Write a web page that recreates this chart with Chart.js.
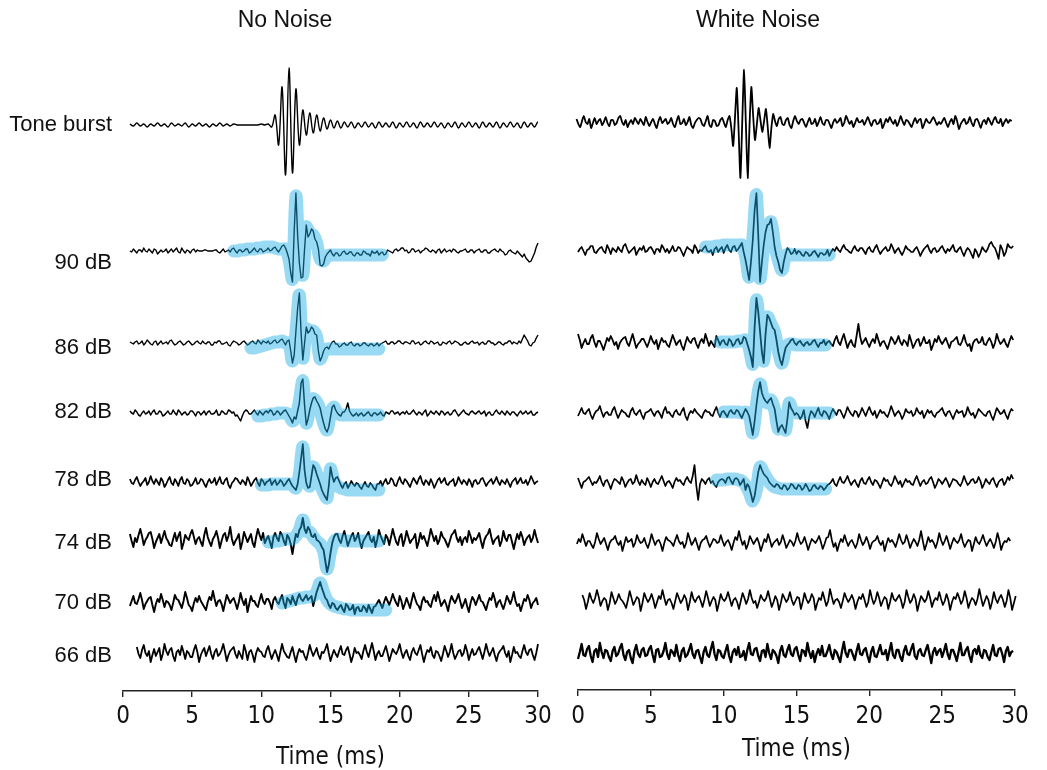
<!DOCTYPE html>
<html>
<head>
<meta charset="utf-8">
<script src="https://cdn.jsdelivr.net/npm/chart.js@4.4.0/dist/chart.umd.min.js"></script>
<style>
  html, body { margin: 0; padding: 0; background: #fff; }
  #wrap { position: relative; width: 1047px; height: 770px; }
  #wrap canvas { position: absolute; left: 0; top: 0; }
</style>
</head>
<body>
<div id="wrap">
  <canvas id="leftChart" width="1047" height="770"></canvas>
  <canvas id="rightChart" width="1047" height="770"></canvas>
</div>
<script>
// amplitudes are in arbitrary units, up = positive; each trace is sampled on a regular step (ms)
const rowLabels = ['Tone burst', '90 dB', '86 dB', '82 dB', '78 dB', '74 dB', '70 dB', '66 dB'];
const timeStep = 5;

// ---- No Noise ----
const leftTone = [ // 0.25 ms step
  1,-1,2,-1,1,-2,1,-1,2,-1,1,-2,2,-1,1,-1,2,-2,1,-1,
  2,-1,1,-2,1,-1,2,-1,1,-1,1,0,0,0,0,0,0,0,1,0,
  1,-2,10,-20,38,-50,57,-48,36,-20,15,-10,12,-8,10,-6,7,-4,5,-3,
  4,-3,3,-2,3,-3,2,-2,3,-2,2,-3,3,-2,2,-2,3,-3,2,-2,
  3,-2,2,-3,3,-2,2,-2,3,-2,2,-3,2,-2,3,-3,2,-2,3,-2,
  2,-3,3,-2,2,-2,3,-3,2,-2,3,-2,2,-3,3,-2,2,-2,3,-1
];
const left90 = [
  0,-1,2,0,-2,1,1,-1,3,0,-1,2,0,-2,2,1,-3,-1,1,-1,0,2,-2,0,2,-1,1,3,-1,-2,3,0,-2,1,0,-2,1,2,-1,1,
  0,0,0,1,1,0,0,0,0,1,1,-1,-2,0,2,-1,0,1,-1,2,3,0,-2,1,1,-1,0,2,2,-2,-1,1,3,0,-1,2,2,-1,0,1,
  3,0,1,3,4,1,-1,2,5,6,3,-2,-8,-22,-31,20,58,15,-12,-27,-26,2,26,14,17,22,20,12,9,2,-14,-15,-13,-6,-3,-1,1,-3,-5,-2,
  -2,-5,-4,-1,0,-3,-3,-1,-1,-4,-5,-2,-2,-4,-4,0,-1,-3,-3,-5,0,-2,-2,0,-4,-2,-1,-4,-3,1,0,-1,-2,1,2,0,1,3,3,0,
  1,-2,-1,2,2,-1,0,1,-2,0,1,3,2,0,-1,1,0,-2,1,2,-2,0,2,-1,0,1,-1,2,1,-1,-2,0,0,1,2,-1,-1,1,1,-2,
  0,1,2,-1,-1,1,1,-2,-2,0,1,2,0,-1,2,0,-1,-4,-3,0,1,-1,-2,-3,0,-2,-4,-6,-3,-7,-9,-11,-10,-6,-2,4,8,3,-3,-4
];
const left86 = [
  1,0,-1,1,2,-1,0,2,-2,0,3,1,-1,-2,1,2,-2,0,2,-1,0,1,-1,2,3,0,-2,-1,1,2,0,-2,-1,1,2,0,-2,-1,1,2,
  0,-1,2,0,-1,1,1,-2,-2,1,0,2,2,-1,-1,0,1,-2,-3,0,2,1,0,-2,-1,1,2,0,-2,-1,1,2,0,-1,3,1,-1,2,1,0,
  2,-1,0,2,3,0,1,3,4,1,-2,2,3,-8,-20,-12,12,35,50,10,-17,0,16,10,12,16,14,9,8,-8,-18,-14,-8,-5,-4,-6,-2,1,2,-1,
  -1,-4,-3,-1,0,-2,-2,0,1,-2,-3,-1,-1,-3,-2,0,0,-2,-3,-1,-1,-3,-2,0,-3,-1,0,1,2,-1,-1,1,1,-1,0,2,2,0,-1,1,
  1,0,-1,2,2,-1,0,1,-2,-1,1,2,0,-1,2,1,-1,0,1,-2,-2,1,0,-1,1,2,-1,0,2,1,0,-2,-2,0,1,-1,-1,1,2,0,
  0,1,-2,0,1,-1,-1,2,2,0,0,-2,-1,1,1,-1,-2,0,0,2,2,-1,1,0,-1,2,0,4,8,5,2,-2,-3,0,1,5,8,3,-1,0
];
const left82 = [
  2,0,-1,3,1,-2,-3,0,2,-1,0,2,-2,1,3,-1,-1,2,1,-3,-2,0,2,-1,-1,3,0,-2,3,1,-2,0,1,-2,-1,2,2,0,-3,1,
  1,-2,0,2,-2,1,2,-1,-1,0,3,-2,-2,2,1,-1,-1,3,2,0,1,-3,-2,-5,-8,-3,1,3,2,-1,-1,1,3,0,-2,2,0,-2,1,2,
  0,3,2,-2,-1,2,1,-2,0,2,3,0,-3,-6,-10,-4,-6,2,10,30,34,8,-12,-6,3,10,15,16,12,9,5,-3,-10,-16,-19,-14,-4,6,8,3,
  0,-2,-3,1,1,4,10,2,-1,-3,-2,0,-3,-1,0,-3,-2,0,1,-2,-3,0,0,-2,-1,1,-2,-3,1,0,-1,2,2,-1,0,1,-2,0,1,-1,
  2,-1,-1,1,3,0,-2,1,0,-2,1,3,-3,-1,2,0,-1,2,0,-2,2,1,-2,0,1,-2,-1,2,3,0,-3,-1,1,3,0,-1,-2,1,2,0,
  -1,1,2,-1,0,2,-3,0,1,-2,-2,1,3,0,-1,2,0,-2,2,0,-2,1,1,-1,-3,0,2,-1,0,2,-1,0,2,-2,-2,0,1,2,-2,0
];
const left78 = [
  3,-1,-2,2,5,0,-4,-1,1,4,-3,0,6,1,-2,3,0,-3,4,1,-5,-2,2,5,-1,-3,3,0,-4,2,5,-1,-2,3,1,-4,-3,0,4,-2,
  -1,3,2,-2,-5,0,3,-1,0,4,-3,1,5,-1,-2,2,4,-3,-6,-1,1,4,3,0,-2,2,0,-3,5,1,-4,-1,2,4,-1,-4,3,1,-3,0,
  1,3,-3,0,2,-3,-1,2,0,-4,-2,1,3,-1,-4,-6,-8,-2,10,24,38,12,-1,-6,-5,6,17,14,8,3,-2,-8,-12,-15,-18,-4,15,6,0,4,
  5,1,-3,-6,-2,0,-6,-3,1,-2,-4,-1,-2,-5,-7,-3,0,-4,-5,-1,-3,-6,-8,-2,-2,1,-4,0,3,-2,-1,4,2,-3,-4,1,5,0,-2,3,
  1,-2,-5,0,4,1,-2,3,6,0,-3,2,0,-3,3,-1,-6,-2,2,4,-1,1,4,-2,-3,0,1,3,-4,-1,5,1,-2,2,0,-3,3,0,-5,1,
  2,-2,-1,3,4,0,-4,-1,1,3,-2,1,5,0,-3,2,0,-2,3,-1,-5,0,2,4,-2,1,4,-1,-1,2,-3,1,6,2,-2,0,1,4,3,-1
];
const left74 = [
  5,-2,-8,1,-3,4,10,3,-6,-1,2,6,7,0,-9,-3,1,5,-4,2,8,1,-2,-6,-7,0,6,-2,3,7,-10,-4,4,1,-1,5,9,2,-5,0,
  2,-3,-7,4,11,2,-3,-7,0,3,8,1,-9,-2,4,6,-2,3,12,0,-6,-2,1,5,-10,-3,7,2,-3,1,5,-4,-8,2,10,4,-1,6,-4,0,
  3,-3,-9,2,6,1,-2,7,4,-2,-6,4,1,-5,-15,-4,5,2,9,12,21,10,6,12,9,3,2,5,-1,-2,-4,-8,-11,-22,-33,-26,-14,-4,2,5,
  5,-1,-4,3,8,1,-7,-2,3,6,-2,1,6,-3,-9,-2,1,4,7,0,-3,2,-8,-1,9,3,-1,-5,4,1,-6,2,10,3,-3,-6,2,5,-7,-1,
  8,2,-4,-1,1,5,-9,-3,6,0,3,-2,-7,1,10,4,-2,3,-5,-1,7,2,0,-4,-8,-2,4,6,9,1,-3,2,-6,0,2,-3,8,3,-4,1,
  -1,2,6,-2,-9,-1,3,5,10,2,-5,-1,1,3,-7,-2,8,1,-2,4,4,-3,-10,-2,5,0,7,2,-6,-1,2,4,-3,1,9,2,-4,1,0,3
];
const left70 = [
  -4,1,6,-1,-2,3,9,2,-7,-2,1,4,5,-3,-10,-2,3,0,8,2,-5,1,0,-3,-8,-1,7,3,2,-2,-6,1,10,4,-3,-5,-9,-1,4,0,
  6,1,-2,-5,-8,0,5,2,11,3,-4,1,2,-2,-9,-1,7,3,-1,2,4,-1,-7,0,9,2,-3,3,-10,-2,6,1,1,-3,-5,2,8,1,-2,3,
  3,-1,-7,2,5,0,-2,3,7,-1,-6,4,2,-2,6,1,-3,4,8,3,1,4,7,2,4,6,-4,3,10,15,20,14,9,4,2,-3,-6,-1,-2,-6,
  -8,-5,-3,-7,-10,-2,-4,-8,-7,-3,-12,-6,-5,-9,-9,-4,-6,-10,-3,-7,-11,-5,-4,-1,2,-2,-6,0,5,1,-3,2,8,3,-1,-4,6,1,-7,-2,
  4,-1,-6,2,9,3,-2,-4,-8,1,5,0,1,-3,-5,2,7,1,10,3,-4,-1,2,-3,-9,0,6,2,-1,3,8,1,-6,-2,3,-4,-10,-1,5,2,
  -3,2,7,1,0,-4,-8,-1,4,2,9,3,-5,0,2,-3,-7,-1,6,2,-2,3,10,1,-4,-2,-9,-3,3,1,7,2,-6,-1,1,4,-3,0,6,2
];
const left66 = [
  6,-1,-5,3,8,0,-3,2,-9,-2,4,-3,1,5,-7,-1,9,2,-2,3,5,-3,-8,1,3,-2,7,1,-6,2,0,-4,-4,3,8,1,-9,-2,2,5,
  -3,2,7,-1,-6,1,4,-3,-1,3,9,1,-8,-2,2,4,6,-1,-5,2,-2,-6,8,2,-7,1,3,-2,-9,0,5,2,1,-3,-4,3,7,0,-6,-1,
  3,-2,-8,1,9,2,-1,-4,-5,1,6,-2,-9,-1,4,1,2,-3,-7,0,8,2,-3,1,5,-2,-6,1,0,4,9,0,-8,-2,3,-1,-4,2,7,-1,
  -2,3,6,-1,-9,-3,5,0,1,-2,-6,2,8,1,-4,3,10,2,-7,-1,2,-3,-3,2,7,0,-8,-2,4,1,-1,3,9,1,-5,0,3,-3,-7,1,
  5,0,-2,3,8,-1,-9,-2,3,1,6,-2,-5,2,1,-3,-8,-1,7,2,-4,1,9,0,-6,-2,2,3,-3,0,8,2,-7,-1,4,-2,-1,3,6,0,
  -6,1,9,2,-3,1,5,-2,-8,-1,2,4,7,0,-4,2,-9,-2,6,0,1,-3,-5,2,8,1,-2,3,4,-2,-7,0,9,3,-3,-1,5,1,-1,2
];
// fitted responses (blue), 0.25 ms step
const leftFit90 = [0,0,1,1,2,2,2,3,3,4,4,4,3,2,2,2,-8,-28,55,-10,-24,24,18,16,8,-8,-10,-5,
  -4,-4,-4,-4,-4,-4,-4,-4,-4,-4,-4,-4,-4,-4,-4,-4];
const leftFit86 = [-5,-5,-4,-3,-2,-1,0,1,1,2,0,0,-18,10,48,-15,14,12,12,6,-16,-9,-6,
  -6,-6,-6,-6,-6,-6,-6,-6,-6,-6,-6,-6,-6,-6,-6];
const leftFit82 = [-3,-3,-2,-2,-1,-1,0,0,0,-2,-8,-4,12,32,-10,4,14,11,3,-10,-17,0,6,0,
  -2,-2,-2,-2,-2,-2,-2,-2,-2,-2,-2,-2];
const leftFit78 = [-3,-3,-3,-2,-2,-2,-2,-2,-2,-3,-6,8,35,2,-4,15,8,-2,-10,-16,13,1,-4,-6,-7,
  -8,-8,-8,-8,-8,-8,-8,-8,-8,-8];
const leftFit74 = [-3,-3,-2,-2,-1,0,0,0,3,9,19,8,7,2,-2,-5,-12,-30,-13,-3,0,-1,-2,
  -2,-2,-2,-2,-2,-2,-2,-2,-2,-2];
const leftFit70 = [-1,0,1,2,3,4,4,5,5,6,10,19,10,2,-2,-4,-5,-6,-7,-7,
  -8,-8,-8,-8,-8,-8,-8,-8,-8,-8,-8];

// ---- White Noise ----
const rightTone = [
  3,-2,-5,1,6,0,-2,3,-6,-1,4,-2,1,3,-3,0,5,-1,-4,2,2,-3,-1,4,6,0,-3,2,-5,-1,2,-2,4,1,-2,3,0,-3,5,0,
  -4,0,3,-2,-6,1,5,-1,1,3,-2,0,4,-2,-5,1,6,-2,-1,3,-3,0,5,-3,-6,-1,2,4,3,-2,-4,1,6,-3,-5,2,1,-4,-3,2,
  4,-1,-5,2,6,-6,-24,4,34,-8,-56,0,52,-2,-56,-4,35,6,-18,-3,14,2,-10,1,13,-5,-26,-6,8,1,-4,3,5,-2,-3,2,4,-3,-6,1,
  6,1,-2,2,3,-1,-5,0,4,-2,-1,3,-4,0,5,-1,-3,2,2,-2,-6,0,3,-1,1,4,-4,-1,6,2,-2,1,-5,-1,4,0,0,2,-3,1,
  5,0,-4,1,2,-2,-1,3,-6,-2,3,0,5,1,-2,2,-4,0,6,1,-3,2,1,-2,-5,0,4,-1,2,3,-6,-2,3,0,-1,2,5,1,-3,0,
  -2,1,4,-1,-5,0,3,-2,6,1,-7,-2,1,3,-2,0,5,-1,-4,2,3,-1,-6,0,2,-2,4,1,-3,2,5,0,-1,3,-4,0,3,-1,2,1
];
const right90 = [
  -2,1,3,-1,-5,0,1,4,4,-2,-3,0,2,3,-1,-3,5,1,-4,2,0,-2,3,0,-2,4,6,1,-3,-1,1,3,-5,-1,2,0,4,-2,-1,2,
  3,0,-4,1,1,-2,5,2,-2,1,-3,0,4,-1,-1,3,2,-2,-6,-1,3,1,0,-3,5,2,-3,0,-1,2,4,-1,-2,0,-5,1,3,-2,1,3,
  -3,2,5,0,-2,3,4,-1,1,4,7,-2,-10,-20,-30,-12,10,40,57,15,-32,-12,5,18,25,26,31,18,3,-6,-12,-20,-23,-12,-4,2,0,-4,-3,1,
  -4,-1,-2,-5,-6,-2,-3,-6,-5,-2,-1,-4,-7,-3,-3,-5,-4,0,-6,-2,1,-1,3,0,-2,2,5,1,0,-2,-3,1,4,0,-1,2,2,-1,-4,1,
  3,-1,-2,2,5,0,-4,-1,1,3,-1,0,6,2,-3,0,2,-2,-5,-1,4,1,0,-2,-2,1,3,-1,-6,-2,1,3,5,0,-3,1,2,-2,-1,2,
  4,0,-3,1,-1,2,5,-1,-2,1,3,-2,-6,-1,2,0,-4,-8,1,-2,-7,-3,3,0,-2,1,6,8,4,2,-3,-9,5,1,-6,-2,6,3,2,4
];
const right86 = [
  8,2,-6,-1,3,-2,-2,4,7,0,-5,1,1,-3,-8,-2,4,1,6,2,-3,0,-7,-1,2,4,5,-1,-4,2,8,1,-6,-2,0,3,3,-1,-5,0,
  6,1,-2,2,-7,-1,4,0,1,-3,-5,1,7,2,-3,0,2,-4,-8,-1,5,1,-1,3,4,-2,-6,0,3,-1,8,2,-4,1,-2,-5,6,2,-3,1,
  2,-2,-3,3,1,-4,-2,2,3,-2,-1,5,4,-2,-8,-15,-25,15,44,30,10,-10,-21,8,27,24,19,14,12,2,-10,-18,-23,-14,-6,-3,-1,2,3,-1,
  -3,0,1,-2,-4,-1,0,-3,-2,1,2,-2,-5,-1,-1,2,-3,0,1,-2,-4,2,6,0,-3,3,8,1,-6,-1,2,-3,-5,6,18,5,-2,1,4,-1,
  -5,0,3,-1,8,2,-4,0,1,-3,-7,-1,5,2,-2,1,6,0,-3,2,0,-4,7,1,-6,-2,2,3,-4,0,5,-1,-1,2,-8,-3,3,0,6,1,
  -2,1,4,-1,-6,0,1,3,5,-2,-3,1,7,0,-4,-2,-9,-1,2,3,-1,0,5,-2,-3,1,4,0,-6,-1,8,2,-2,0,3,-2,-5,1,6,2
];
const right82 = [
  -3,1,5,0,-1,2,4,-2,-6,-1,2,3,7,1,-4,0,1,-2,-2,3,6,0,-5,-1,3,1,0,-3,-4,2,5,0,-2,1,3,-2,-6,0,1,2,
  4,0,-3,1,2,-1,-5,2,6,0,1,-2,-4,1,3,-1,-2,2,5,-3,-7,-1,2,0,4,1,-1,-3,-5,0,3,1,1,-2,-3,2,6,0,-4,1,
  2,-1,-4,1,3,0,-1,3,2,-2,-5,0,4,1,-3,-12,-22,-8,8,22,31,20,15,12,10,13,15,9,4,-8,-19,-14,-12,-16,-20,-6,11,5,2,-2,
  0,-2,-6,-3,3,-8,-15,-4,2,0,-4,1,5,-1,-3,2,1,-2,-6,0,4,1,-2,3,3,-1,-5,0,6,2,-1,-3,2,1,-4,0,5,1,-3,2,
  6,1,-2,2,-5,-1,3,0,1,-2,-4,1,7,2,-3,0,2,-1,-6,-2,4,1,0,2,-3,-1,5,1,-1,2,-5,-1,3,0,2,-2,-4,0,1,3,
  5,0,-3,1,2,-2,-6,-1,3,0,1,2,-4,-1,6,1,-2,0,-5,-1,4,2,0,-2,-3,1,2,-3,-7,-1,5,2,-1,0,3,-2,-6,0,4,2
];
const right78 = [
  4,-1,-6,0,1,3,5,1,-3,0,-1,2,6,0,-4,1,2,-2,-7,-1,3,2,0,-2,5,1,-5,-1,2,3,-2,0,7,1,-3,2,-1,-3,4,0,
  -5,0,3,-1,-2,2,6,1,-4,0,1,-2,-6,0,4,1,2,-1,-3,2,5,1,-1,6,17,-4,-18,-2,3,1,-2,2,4,-1,1,-3,-5,0,2,3,
  2,-1,4,5,1,-2,3,4,2,-3,0,3,-8,-2,-5,-12,-20,-14,-2,10,17,12,8,6,4,0,-2,-4,-5,-2,-3,-6,-7,-3,-4,-8,-6,-2,-3,-6,
  -7,-3,-4,-8,-6,-2,-5,-9,-8,-4,-3,-6,-7,-4,-5,-8,-6,-3,-2,0,3,-2,-4,1,5,0,-1,2,6,1,-3,0,2,-2,-5,1,4,-1,-2,2,
  5,0,-3,2,1,-2,-6,-1,4,1,2,-2,-4,0,6,2,-2,1,-5,-1,3,0,1,-2,-3,2,6,1,-4,0,2,-2,-1,3,5,0,-6,-2,3,1,
  -2,1,4,0,-5,-1,3,2,1,-2,-4,0,6,1,-3,-1,2,3,-1,0,5,1,-6,-2,3,0,-2,2,4,-1,-5,0,2,3,-3,0,5,2,7,3
];
const right74 = [
  -7,-2,3,0,8,2,-4,1,1,-3,-6,0,9,3,-2,1,4,-2,-8,-1,2,3,6,0,-3,1,-9,-2,5,0,1,3,-5,-1,7,2,-1,0,4,-2,
  -6,0,8,2,-3,1,2,-2,-9,-1,5,2,1,-1,-4,2,7,1,-2,0,-6,-1,9,3,-3,0,4,-2,-8,-1,2,3,6,0,-5,-1,3,2,-1,0,
  7,1,-4,0,2,-2,-8,-1,5,2,11,3,-3,1,-7,-2,6,2,-2,1,4,-1,-9,-3,3,0,8,2,-5,-1,1,3,-3,0,7,1,-6,-2,2,0,
  -4,1,9,2,-2,0,5,-1,-8,-2,3,1,-1,2,6,0,-7,-2,4,5,12,2,-5,-1,-9,-2,3,0,7,1,-4,0,2,-2,-6,-1,8,2,-3,0,
  5,0,-7,-1,1,2,6,0,-3,1,-9,-2,4,0,2,-1,-5,1,8,2,-2,0,7,1,-6,-1,3,0,-4,2,11,1,-8,-2,5,0,2,-1,-6,0,
  9,2,-3,1,6,0,-7,-1,4,1,-1,2,8,0,-5,-1,2,1,-9,-2,5,0,-2,2,7,1,-4,0,3,-1,-6,0,9,2,-8,-2,1,0,4,1
];
const right70 = [
  5,0,-9,-2,7,1,-3,2,10,3,-6,-1,2,0,-10,-3,8,2,-4,0,6,1,-1,-4,-8,0,9,2,-5,-1,3,1,-11,-3,7,2,-2,1,6,0,
  -8,-2,4,1,10,2,-5,0,1,-3,-9,-1,7,2,-3,0,5,1,-10,-2,8,1,-2,2,4,-1,-7,0,9,2,-6,-1,3,0,-11,-3,6,1,-1,2,
  8,1,-6,0,2,-2,-9,-1,7,2,-4,1,10,2,-3,-1,-8,-2,5,1,-1,2,9,1,-7,-2,4,0,-10,-3,6,2,-2,1,8,0,-5,-1,3,2,
  -9,-2,7,1,-3,0,6,2,-10,-3,2,0,8,1,-6,-1,11,3,-4,0,1,-2,-8,-1,7,2,-2,1,5,0,-9,-2,3,1,6,0,-7,-2,10,2,
  -4,0,8,2,-6,-1,3,1,-9,-2,7,1,-1,2,5,0,-8,-2,10,3,-3,0,6,1,-11,-3,4,1,-2,1,9,2,-7,-1,2,0,8,1,-5,-1,
  6,0,-10,-2,3,1,7,2,-4,0,9,2,-8,-2,2,0,-5,1,11,2,-6,-1,4,0,-9,-2,8,1,-3,2,5,0,-7,-1,10,2,-10,-3,4,1
];
const right66 = [
  -6,1,9,-2,-3,4,7,-3,-9,2,4,-4,10,1,-5,3,2,-4,-8,2,6,-3,-1,5,9,-2,-7,1,3,-5,-10,2,8,-1,-4,3,5,-3,-2,4,
  7,-2,-9,3,4,-4,-3,2,10,-1,-6,3,1,-3,8,-2,-8,2,5,-4,-2,3,9,-1,-5,2,3,-4,-10,1,6,-2,-4,4,11,-1,-7,3,2,-3,
  -5,2,8,-3,-9,1,4,-2,6,-4,-3,2,-7,3,10,-1,-2,4,5,-3,-8,2,3,-4,9,0,-6,3,1,-3,-10,2,7,-2,-4,3,8,-1,-3,4,
  6,-2,-8,3,2,-3,10,1,-5,2,-9,-1,4,-2,7,-3,-3,2,8,-1,-6,3,1,-4,-9,2,11,0,-4,3,3,-2,-7,2,9,-1,-2,3,5,-3,
  -9,1,6,-3,-4,2,8,-1,-1,3,-7,2,10,-2,-5,3,3,-4,-8,2,7,-1,-2,4,9,-3,-6,2,4,-2,-3,3,8,-1,-10,1,5,-2,2,4,
  -4,2,9,-1,-6,3,3,-2,-8,1,10,-2,-2,3,6,-3,-9,2,4,-1,7,-2,-5,3,2,-4,-7,1,8,-2,-3,4,5,-1,-9,2,6,-3,1,2
];
const rightFit90 = [3,3,3,4,4,5,5,5,5,5,5,-6,-27,10,55,-28,5,24,28,5,-10,-20,-6,-4,
  -5,-5,-5,-5,-5,-5,-5,-5,-5,-5,-5];
const rightFit86 = [0,0,0,0,0,1,1,2,-6,-22,42,10,-19,25,18,10,-9,-21,-6,-2,-2,
  -3,-3,-3,-3,-3,-3,-3,-3,-3];
const rightFit82 = [1,1,1,1,1,0,1,-2,-20,8,29,14,10,13,3,-16,-11,-17,10,2,
  0,0,0,0,0,0,0,0,0,0];
const rightFit78 = [2,2,2,3,3,3,2,1,-3,-10,-19,-8,15,9,3,-2,-5,-6,
  -7,-7,-7,-7,-7,-7,-7,-7,-7,-7,-7,-7,-7];

// ---- layout: row baselines (pixels from top), start times and sample steps (ms) ----
const labelLevels = [125, 263, 348, 412, 480, 543, 603, 656];
const leftBase = [125, 251, 343, 413, 482, 539, 602, 653];
const leftStarts = [0.5, 0.5, 0.5, 0.5, 0.5, 0.5, 0.5, 1.0];
const leftSteps = [0.25, 0.125, 0.125, 0.125, 0.125, 0.125, 0.125, 0.125];
const leftFitRows = [1, 2, 3, 4, 5, 6];
const leftFitStarts = [8.0, 9.25, 9.75, 10.0, 10.5, 11.5];
const rightBase = [122, 250, 342, 413, 482, 542, 600, 653];
const rightStarts = [-0.1, 0, 0, 0, 0, -0.2, 0.3, 0];
const rightSteps = [0.125, 0.125, 0.125, 0.125, 0.125, 0.125, 0.125, 0.125];
const rightFitRows = [1, 2, 3, 4];
const rightFitStarts = [8.75, 9.75, 10.0, 9.5];
const FIT_STEP = 0.25;

const BLUE = 'rgba(26,173,228,0.45)';
const SANS = "'Liberation Sans', Arial, sans-serif";
const NARROW = "'Liberation Sans Narrow', 'Arial Narrow', 'DejaVu Sans Condensed', sans-serif";

function trace(vals, t0, base, step) {
  return vals.map((v, i) => ({ x: t0 + i * step, y: base - v }));
}

function makeDatasets(traces, starts, steps, bases, tensions, widths, fits, fitRows, fitStarts) {
  const sets = [];
  fits.forEach((vals, j) => {
    const r = fitRows[j];
    sets.push({
      data: trace(vals, fitStarts[j], bases[r], FIT_STEP),
      borderColor: BLUE, borderWidth: 13,
      borderCapStyle: 'round', borderJoinStyle: 'round',
      tension: 0.3, pointRadius: 0, clip: false, order: 0
    });
  });
  traces.forEach((vals, r) => {
    sets.push({
      data: trace(vals, starts[r], bases[r], steps[r]),
      borderColor: '#000', borderWidth: widths[r],
      borderJoinStyle: 'round',
      tension: tensions[r], pointRadius: 0, clip: false, order: 1
    });
  });
  return sets;
}

const panelTitle = {
  id: 'panelTitle',
  afterDraw(chart, args, opts) {
    const ctx = chart.ctx;
    ctx.save();
    ctx.font = '23px ' + SANS;
    ctx.fillStyle = '#111';
    ctx.textAlign = 'center';
    ctx.textBaseline = 'middle';
    ctx.fillText(opts.text, opts.x, opts.y);
    ctx.restore();
  }
};

function xAxis(axisHeight, titleBottom, tickPad) {
  return {
    type: 'linear', min: 0, max: 30,
    afterFit: s => { s.height = axisHeight; },
    ticks: { stepSize: timeStep, padding: tickPad, maxRotation: 0, color: '#111',
             font: { family: NARROW, size: 24 } },
    grid: { drawOnChartArea: false, tickLength: 6, color: '#222', lineWidth: 1.4 },
    border: { color: '#222', width: 1.5 },
    title: { display: true, text: 'Time (ms)', color: '#111',
             font: { family: NARROW, size: 24, lineHeight: 1 },
             padding: { top: 0, bottom: titleBottom } }
  };
}

const leftSets = makeDatasets(
  [leftTone, left90, left86, left82, left78, left74, left70, left66],
  leftStarts, leftSteps, leftBase,
  [0.35, 0, 0, 0, 0, 0, 0, 0],
  [1.4, 1.4, 1.4, 1.5, 1.7, 1.9, 1.9, 1.8],
  [leftFit90, leftFit86, leftFit82, leftFit78, leftFit74, leftFit70],
  leftFitRows, leftFitStarts
);

const rightSets = makeDatasets(
  [rightTone, right90, right86, right82, right78, right74, right70, right66],
  rightStarts, rightSteps, rightBase,
  [0.2, 0, 0, 0, 0, 0, 0, 0],
  [1.8, 1.7, 1.8, 1.7, 1.7, 1.7, 1.7, 2.3],
  [rightFit90, rightFit86, rightFit82, rightFit78],
  rightFitRows, rightFitStarts
);

new Chart(document.getElementById('leftChart'), {
  type: 'line',
  data: { datasets: leftSets },
  options: {
    responsive: false, animation: false, events: [],
    layout: { padding: { left: 0, right: 509, top: 40, bottom: 0 } },
    plugins: {
      legend: { display: false }, tooltip: { enabled: false },
      panelTitle: { text: 'No Noise', x: 285, y: 21 }
    },
    scales: {
      x: xAxis(79, 0, 5),
      y: {
        type: 'linear', reverse: true, min: 40, max: 691,
        afterBuildTicks: s => { s.ticks = labelLevels.map(v => ({ value: v })); },
        afterFit: s => { s.width = 123; },
        ticks: { autoSkip: false, padding: 11, color: '#111',
                 font: { family: SANS, size: 22 },
                 callback: (v, i) => rowLabels[i] },
        grid: { display: false, drawTicks: false },
        border: { display: false }
      }
    }
  },
  plugins: [panelTitle]
});

new Chart(document.getElementById('rightChart'), {
  type: 'line',
  data: { datasets: rightSets },
  options: {
    responsive: false, animation: false, events: [],
    layout: { padding: { left: 578, right: 32, top: 40, bottom: 0 } },
    plugins: {
      legend: { display: false }, tooltip: { enabled: false },
      panelTitle: { text: 'White Noise', x: 758, y: 21 }
    },
    scales: {
      x: xAxis(80, 8, 6),
      y: { type: 'linear', reverse: true, min: 40, max: 690, display: false }
    }
  },
  plugins: [panelTitle]
});
</script>
</body>
</html>
